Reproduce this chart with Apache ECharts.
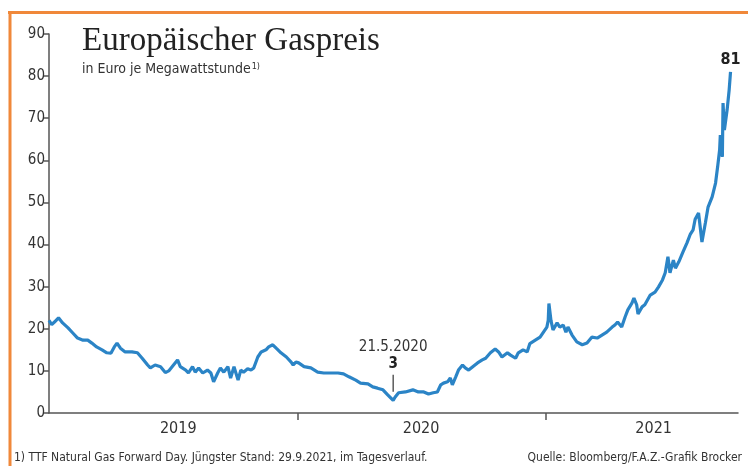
<!DOCTYPE html>
<html>
<head>
<meta charset="utf-8">
<script src="https://cdn.jsdelivr.net/npm/echarts@6/dist/echarts.min.js"></script>
<style>
  html, body { margin: 0; padding: 0; background: #fff; }
  #chart { width: 748px; height: 466px; }
</style>
</head>
<body>
<div id="chart"></div>
<script>
// TTF Gaspreis, Euro je MWh
const dates = [
  "2019-01-01", "2019-01-05", "2019-01-09", "2019-01-15", "2019-01-21", "2019-01-29",
  "2019-02-05", "2019-02-12", "2019-02-20", "2019-02-27", "2019-03-05", "2019-03-12",
  "2019-03-20", "2019-03-27", "2019-04-02", "2019-04-07", "2019-04-11", "2019-04-16",
  "2019-04-23", "2019-05-03", "2019-05-11", "2019-05-18", "2019-05-26", "2019-05-30",
  "2019-06-06", "2019-06-14", "2019-06-21", "2019-06-26", "2019-07-01", "2019-07-09",
  "2019-07-13", "2019-07-21", "2019-07-25", "2019-07-31", "2019-08-04", "2019-08-09",
  "2019-08-15", "2019-08-22", "2019-08-27", "2019-08-31", "2019-09-06", "2019-09-10",
  "2019-09-15", "2019-09-21", "2019-09-25", "2019-09-30", "2019-10-06", "2019-10-10",
  "2019-10-14", "2019-10-20", "2019-10-25", "2019-10-29", "2019-11-04", "2019-11-09",
  "2019-11-16", "2019-11-20", "2019-11-26", "2019-12-01", "2019-12-08", "2019-12-16",
  "2019-12-23", "2019-12-26", "2019-12-30",
  "2020-01-03", "2020-01-11", "2020-01-21", "2020-01-31", "2020-02-09", "2020-02-16",
  "2020-03-01", "2020-03-09", "2020-03-17", "2020-03-27", "2020-04-03", "2020-04-14",
  "2020-04-21", "2020-04-28", "2020-05-06", "2020-05-13", "2020-05-21", "2020-05-24",
  "2020-05-29", "2020-06-08", "2020-06-19", "2020-06-27", "2020-07-05", "2020-07-12",
  "2020-07-19", "2020-07-25", "2020-07-30", "2020-08-03", "2020-08-09", "2020-08-13",
  "2020-08-16", "2020-08-21", "2020-08-25", "2020-08-31", "2020-09-04", "2020-09-09",
  "2020-09-15", "2020-09-22", "2020-09-29", "2020-10-04", "2020-10-11", "2020-10-18",
  "2020-10-23", "2020-10-28", "2020-11-05", "2020-11-09", "2020-11-17", "2020-11-21",
  "2020-11-28", "2020-12-04", "2020-12-08", "2020-12-16", "2020-12-23", "2020-12-28",
  "2021-01-02", "2021-01-04", "2021-01-05", "2021-01-08", "2021-01-11", "2021-01-17",
  "2021-01-21", "2021-01-26", "2021-01-30", "2021-02-02", "2021-02-08", "2021-02-15",
  "2021-02-23", "2021-03-02", "2021-03-09", "2021-03-17", "2021-03-24", "2021-03-31",
  "2021-04-08", "2021-04-12", "2021-04-16", "2021-04-22", "2021-04-27", "2021-05-01",
  "2021-05-07", "2021-05-10", "2021-05-14", "2021-05-16", "2021-05-22", "2021-05-26",
  "2021-06-03", "2021-06-10", "2021-06-15", "2021-06-21", "2021-06-25", "2021-06-29",
  "2021-07-02", "2021-07-07", "2021-07-10", "2021-07-15", "2021-07-21", "2021-07-27",
  "2021-08-01", "2021-08-05", "2021-08-08", "2021-08-13", "2021-08-18", "2021-08-23",
  "2021-08-27", "2021-09-02", "2021-09-07", "2021-09-10", "2021-09-13", "2021-09-14",
  "2021-09-17", "2021-09-18", "2021-09-20", "2021-09-24", "2021-09-27", "2021-09-29"
];
const prices = [
  22.0, 21.0, 21.6, 22.6, 21.4, 20.2,
  19.0, 17.8, 17.3, 17.3, 16.6, 15.7,
  15.0, 14.3, 14.2, 15.7, 16.6, 15.4,
  14.5, 14.5, 14.3, 13.0, 11.4, 10.7,
  11.4, 11.0, 9.6, 10.0, 11.0, 12.6,
  11.0, 10.2, 9.5, 11.0, 9.7, 10.7,
  9.5, 10.2, 9.5, 7.4, 9.5, 10.7,
  9.7, 11.0, 8.3, 11.0, 7.8, 10.2,
  9.7, 10.5, 10.2, 10.7, 13.3, 14.5,
  15.0, 15.7, 16.2, 15.4, 14.3, 13.3,
  12.1, 11.4, 12.1,
  11.9, 11.0, 10.7, 9.7, 9.5, 9.5,
  9.5, 9.3, 8.6, 7.8, 7.1, 6.9,
  6.2, 5.9, 5.5, 4.3, 3.0, 3.8,
  4.8, 5.0, 5.5, 5.0, 5.0, 4.5,
  4.8, 5.0, 6.7, 7.1, 7.4, 8.3,
  6.7, 8.6, 10.2, 11.4, 10.7, 10.2,
  11.0, 11.9, 12.6, 13.0, 14.3, 15.2,
  14.5, 13.3, 14.3, 13.8, 13.0, 14.3,
  15.0, 14.5, 16.5, 17.3, 18.0, 19.2,
  20.4, 22.0, 26.0, 22.0, 19.7, 21.4,
  20.4, 20.9, 19.2, 20.4, 18.5, 16.9,
  16.2, 16.6, 18.0, 17.8, 18.5, 19.2,
  20.4, 20.9, 21.6, 20.4, 22.8, 24.5,
  26.1, 27.3, 25.7, 23.5, 25.2, 25.7,
  28.0, 28.7, 29.9, 31.6, 33.3, 37.1,
  33.3, 36.3, 34.4, 35.9, 38.2, 40.4,
  42.5, 43.5, 46.0, 47.5, 40.6, 45.1,
  48.9, 51.3, 54.6, 58.4, 62.5, 66.0,
  60.8, 73.6, 67.2, 72.0, 76.7, 81.0
];
const yTicks = [0, 10, 20, 30, 40, 50, 60, 70, 80, 90];
const yearTicks = ["2020-01-01", "2021-01-01"];
const yearLabelDates = ["2019-07-10", "2020-07-01", "2021-06-08"];

const ts = (d) => Date.UTC(+d.slice(0, 4), +d.slice(5, 7) - 1, +d.slice(8, 10));

const narrow = "'Liberation Sans Narrow', 'DejaVu Sans Condensed', 'Roboto', sans-serif";
const blue = "#2b84c6";
const axisGray = "#555";

const chart = echarts.init(document.getElementById("chart"));

const option = {
  backgroundColor: "#fff",
  animation: false,
  title: [
    {
      text: "Europäischer Gaspreis",
      left: 82,
      top: 25,
      padding: 0,
      textStyle: {
        fontFamily: "'Liberation Serif', 'DejaVu Serif', serif",
        fontSize: 33,
        fontWeight: "normal",
        color: "#222",
      },
    },
    {
      text: "in Euro je Megawattstunde{s|1)}",
      left: 82,
      top: 62,
      padding: 0,
      textStyle: {
        fontFamily: narrow,
        fontSize: 14,
        fontWeight: "normal",
        color: "#333",
        rich: {
          s: { fontFamily: narrow, fontSize: 9, fontWeight: "normal", color: "#333", verticalAlign: "top", padding: [0, 0, 6, 1] },
        },
      },
    },
    {
      text: "1) TTF Natural Gas Forward Day. Jüngster Stand: 29.9.2021, im Tagesverlauf.",
      left: 14,
      top: 452,
      padding: 0,
      textStyle: { fontFamily: narrow, fontSize: 12, fontWeight: "normal", color: "#333" },
    },
    {
      text: "Quelle: Bloomberg/F.A.Z.-Grafik Brocker",
      right: 6,
      top: 452,
      padding: 0,
      textStyle: { fontFamily: narrow, fontSize: 12, fontWeight: "normal", color: "#333" },
    },
  ],
  graphic: [
    { type: "line", shape: { x1: 8, y1: 12.5, x2: 748, y2: 12.5 }, style: { stroke: "#f0883a", lineWidth: 3 } },
    { type: "line", shape: { x1: 10, y1: 11, x2: 10, y2: 466 }, style: { stroke: "#f0883a", lineWidth: 3 } },
  ],
  grid: { left: 49, right: 10, top: 34, bottom: 53 },
  xAxis: {
    type: "value",
    min: ts("2019-01-01"),
    max: ts("2021-10-10"),
    axisLine: { show: true, lineStyle: { color: axisGray, width: 1.5 } },
    axisTick: {
      show: true,
      customValues: yearTicks.map(ts),
      length: 7,
      lineStyle: { color: axisGray, width: 1.5 },
    },
    axisLabel: {
      customValues: yearLabelDates.map(ts),
      formatter: (v) => String(new Date(v).getUTCFullYear()),
      fontFamily: narrow,
      fontSize: 16,
      color: "#333",
      margin: 8,
    },
    splitLine: { show: false },
  },
  yAxis: {
    type: "value",
    min: yTicks[0],
    max: yTicks[yTicks.length - 1],
    interval: 10,
    axisLine: { show: true, lineStyle: { color: axisGray, width: 1.5 } },
    axisTick: { show: true, length: 5, lineStyle: { color: axisGray, width: 1.5 } },
    axisLabel: { fontFamily: narrow, fontSize: 15, color: "#333", margin: 4 },
    splitLine: { show: false },
  },
  series: [
    {
      type: "line",
      data: dates.map((d, i) => [ts(d), prices[i]]),
      symbol: "none",
      lineStyle: { color: blue, width: 3.2 },
      itemStyle: { color: blue },
      z: 3,
      markPoint: {
        silent: true,
        data: [
          {
            coord: [ts("2020-05-21"), 3],
            symbol: "rect",
            symbolSize: [1.2, 17],
            symbolOffset: [0, -17],
            itemStyle: { color: "#333" },
            label: {
              show: true,
              position: "top",
              distance: 2,
              formatter: "{d|21.5.2020}\n{v|3}",
              rich: {
                d: { fontFamily: narrow, fontSize: 15, color: "#333", align: "center", lineHeight: 17 },
                v: { fontFamily: narrow, fontSize: 15, fontWeight: "bold", color: "#222", align: "center", lineHeight: 17 },
              },
            },
          },
          {
            coord: [ts("2021-09-29"), 81],
            symbol: "rect",
            symbolSize: [0, 0],
            label: {
              show: true,
              position: "top",
              distance: 4,
              formatter: "81",
              fontFamily: narrow,
              fontSize: 16,
              fontWeight: "bold",
              color: "#222",
            },
          },
        ],
      },
    },
  ],
};

chart.setOption(option);
</script>
</body>
</html>
